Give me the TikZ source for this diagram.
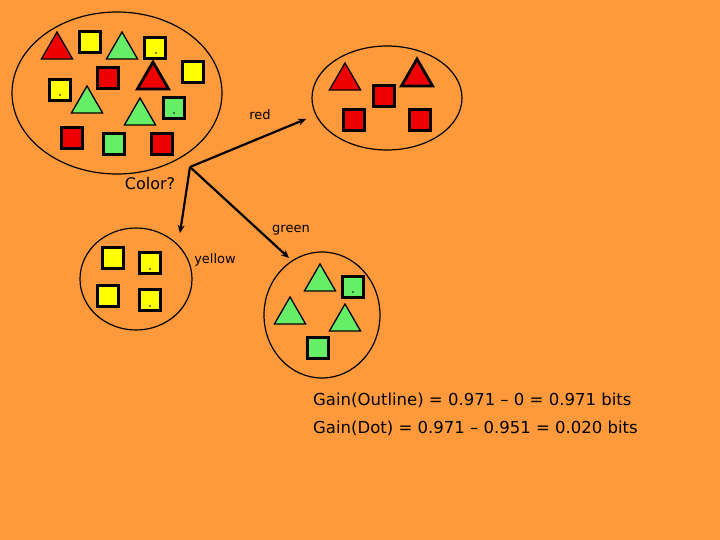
\documentclass[tikz,border=0pt]{standalone}
\usepackage{fontspec}
\usetikzlibrary{shapes.geometric,arrows.meta}
\setmainfont{DejaVu Sans}
\definecolor{bg}{HTML}{FF9A3C}
\definecolor{rd}{HTML}{EE0000}
\definecolor{yl}{HTML}{FFFF00}
\definecolor{gr}{HTML}{66EE66}
\begin{document}
\begin{tikzpicture}[x=1pt,y=-1pt,
  sq/.style={draw=black,line width=2.2pt,minimum size=21pt,inner sep=0pt},
  tri/.style={draw=black,line width=1.3pt,regular polygon,regular polygon sides=3,minimum size=36pt,inner sep=0pt},
  thk/.style={line width=2.8pt},
  grp/.style={draw=black,line width=1.2pt,ellipse},
  dotmark/.style={circle,fill=black,inner sep=0pt,minimum size=1.8pt},
  lab/.style={font=\fontsize{13}{15}\selectfont,inner sep=0pt},
  arr/.style={line width=2.2pt,-{Stealth[length=8pt,width=7pt]}}]
\useasboundingbox[fill=bg] (0,0) rectangle (720,540);
% groups
\node[grp,minimum width=210pt,minimum height=162pt] (g0) at (117,93) {};
\node[grp,minimum width=150pt,minimum height=104pt] (g1) at (387,98) {};
\node[grp,minimum width=112pt,minimum height=102pt] (g2) at (136,279) {};
\node[grp,minimum width=116pt,minimum height=126pt] (g3) at (322,315) {};
% top-left
\node[tri,fill=rd] (a1) at (57,50) {};
\node[sq,fill=yl] (a2) at (90,42) {};
\node[tri,fill=gr] (a3) at (122,50) {};
\node[sq,fill=yl] (a4) at (155,48) {}; \node[dotmark] at (156,53) {};
\node[sq,fill=yl] (a5) at (193,72) {};
\node[sq,fill=rd] (a6) at (108,78) {};
\node[tri,fill=rd,thk] (a7) at (153,80) {};
\node[sq,fill=yl] (a8) at (60,90) {}; \node[dotmark] at (60,95) {};
\node[tri,fill=gr] (a9) at (87,104) {};
\node[tri,fill=gr] (a10) at (140,116) {};
\node[sq,fill=gr] (a11) at (174,108) {}; \node[dotmark] at (174,113) {};
\node[sq,fill=rd] (a12) at (72,138) {};
\node[sq,fill=gr] (a13) at (114,144) {};
\node[sq,fill=rd] (a14) at (162,144) {};
% top-right
\node[tri,fill=rd] (b1) at (345,81) {};
\node[tri,fill=rd,thk] (b2) at (417,77) {};
\node[sq,fill=rd] (b3) at (384,96) {};
\node[sq,fill=rd] (b4) at (354,120) {};
\node[sq,fill=rd] (b5) at (420,120) {};
% bottom-left
\node[sq,fill=yl] (c1) at (113,258) {};
\node[sq,fill=yl] (c2) at (150,263) {}; \node[dotmark] at (150,269) {};
\node[sq,fill=yl] (c3) at (108,296) {};
\node[sq,fill=yl] (c4) at (150,300) {}; \node[dotmark] at (150,306) {};
% bottom-right
\node[tri,fill=gr] (d1) at (320,282) {};
\node[sq,fill=gr] (d2) at (353,287) {}; \node[dotmark] at (353,292) {};
\node[tri,fill=gr] (d3) at (290,315) {};
\node[tri,fill=gr] (d4) at (345,322) {};
\node[sq,fill=gr] (d5) at (318,348) {};
% connectors
\coordinate (j) at (190,167);
\coordinate (tr) at (306,119);
\coordinate (ty) at (180,233);
\coordinate (tg) at (289,258);
\draw[arr] (j) -- (tr);
\draw[arr] (j) -- (ty);
\draw[arr] (j) -- (tg);
% labels
\node[lab] (lr) at (260,115) {red};
\node[lab,font=\fontsize{16}{18}\selectfont] (lc) at (150,184) {Color?};
\node[lab] (lg) at (291,230) {green};
\node[lab] (ly) at (215,260) {yellow};
\node[lab,anchor=west,font=\fontsize{16.5}{28}\selectfont,align=left] (gain) at (313,414)
  {Gain(Outline) = 0.971 – 0 = 0.971 bits\\Gain(Dot) = 0.971 – 0.951 = 0.020 bits};
\end{tikzpicture}
\end{document}
